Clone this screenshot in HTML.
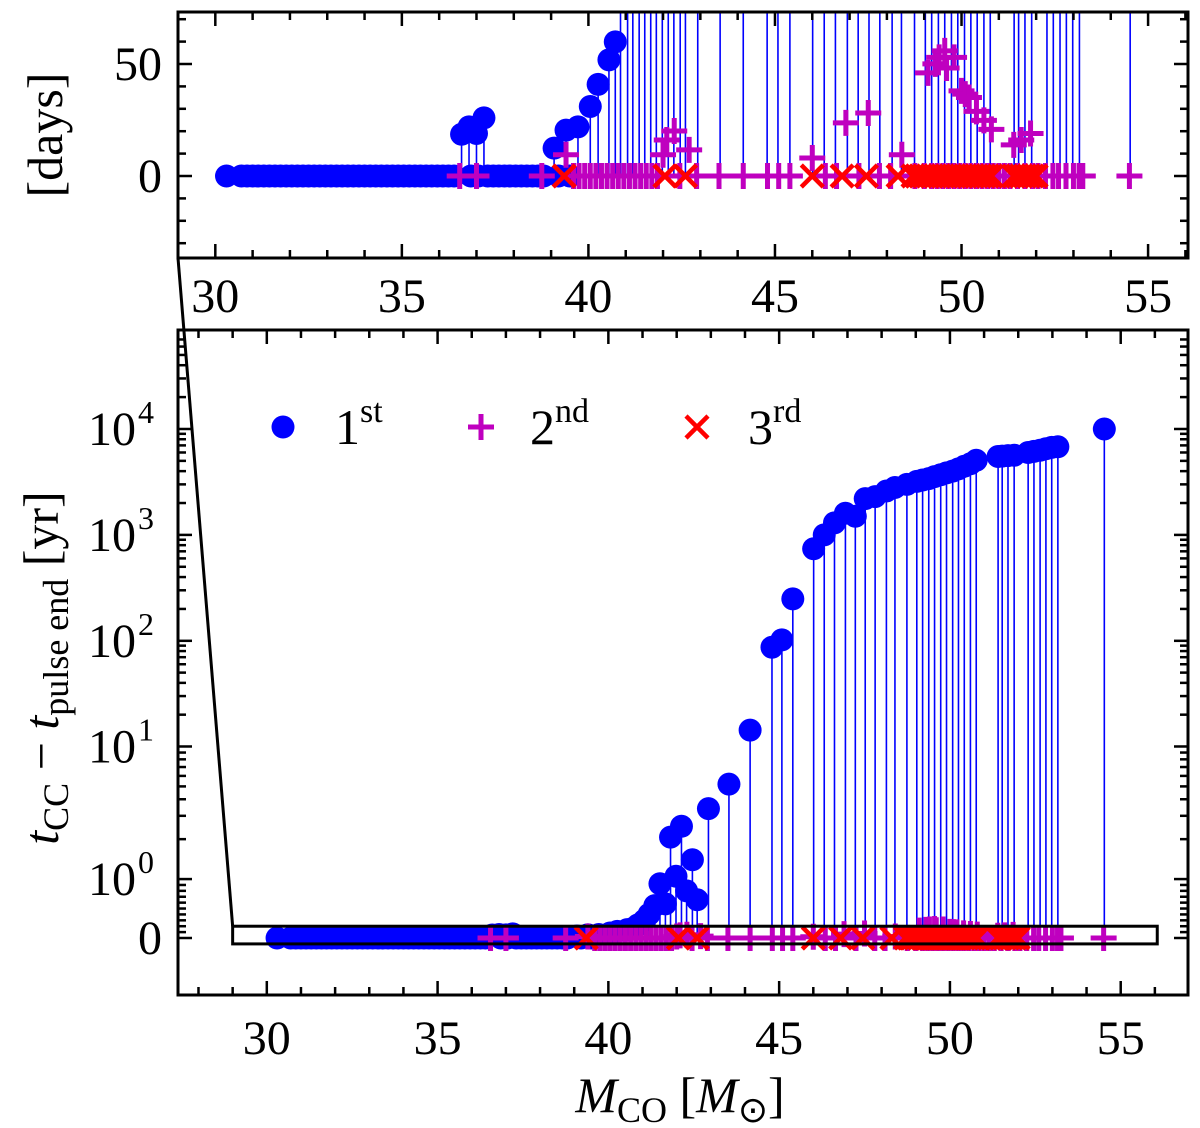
<!DOCTYPE html>
<html><head><meta charset="utf-8"><style>
html,body{margin:0;padding:0;background:#fff;}
svg{display:block;font-family:"Liberation Serif",serif;}
</style></head><body>
<svg id="chart" width="1200" height="1128" viewBox="0 0 1200 1128" xmlns="http://www.w3.org/2000/svg">
<defs>
<clipPath id="clipTop"><rect x="178" y="12" width="1010" height="246"/></clipPath>
<clipPath id="clipBot"><rect x="178" y="330" width="1010" height="665"/></clipPath>
</defs>
<g id="topPanel"></g>
<g id="botPanel"></g>
</svg>
<script>
// ---- data (M_CO in Msun, time in yr) ----
const blueM=[30.3,30.7,30.85,31.0,31.15,31.3,31.45,31.6,31.75,31.9,32.05,32.2,32.35,32.5,32.65,32.8,32.95,33.1,33.25,33.4,33.55,33.7,33.85,34.0,34.15,34.3,34.45,34.6,34.75,34.9,35.05,35.2,35.35,35.5,35.65,35.8,35.95,36.1,36.25,36.4,36.85,37.05,37.3,37.45,37.6,37.75,37.9,38.05,38.2,38.35,38.5,38.65,38.8,39.2,39.5,
36.6,36.8,37.0,37.2,39.08,39.4,39.72,40.05,40.26,40.55,40.72,
40.86,41.05,41.19,41.36,41.51,41.67,41.82,41.98,42.14,42.29,42.46,42.6,42.93,43.53,44.15,44.79,45.08,45.4,46.01,46.32,46.62,46.94,47.23,47.52,47.81,48.14,48.39,48.74,49.03,49.2,49.38,49.55,49.73,49.9,50.08,50.25,50.42,50.6,50.77,51.41,51.53,51.7,51.88,52.29,52.46,52.64,52.81,52.98,53.16,54.52];
const blueYr=[0,0,0,0,0,0,0,0,0,0,0,0,0,0,0,0,0,0,0,0,0,0,0,0,0,0,0,0,0,0,0,0,0,0,0,0,0,0,0,0,0,0,0,0,0,0,0,0,0,0,0,0,0,0,0,
0.051,0.060,0.052,0.071,0.034,0.056,0.060,0.085,0.112,0.142,0.164,
0.22,0.3,0.4,0.55,0.92,0.58,2.07,1.05,2.5,0.8,1.4,0.65,3.4,5.2,14.3,87,102,249,740,1000,1300,1600,1500,2200,2300,2600,2800,3000,3200,3300,3400,3550,3700,3850,4000,4200,4450,4700,5070,5500,5550,5600,5650,6000,6150,6300,6500,6700,6800,10000];
const magM=[39.4,42.0,42.1,42.3,42.7,46.0,46.9,47.5,48.4,49.1,49.3,49.4,49.55,49.6,49.8,50.0,50.1,50.2,50.4,50.6,50.8,51.4,51.6,51.85,
36.55,37.0,38.75,39.6,39.75,39.9,40.05,40.2,40.35,40.5,40.65,40.8,40.95,41.1,41.25,41.4,41.55,41.7,41.85,42.45,42.9,43.5,44.15,44.8,45.1,45.4,46.35,46.65,47.25,47.8,48.1,48.75,49.0,49.2,49.35,49.5,49.65,49.8,49.95,50.1,50.25,50.4,50.55,50.7,50.85,51.0,51.15,51.3,51.5,51.7,51.9,52.05,52.25,52.45,52.6,52.8,53.0,53.15,53.25,54.5];
const magYr=[0.026,0.026,0.044,0.055,0.032,0.022,0.065,0.077,0.026,0.126,0.137,0.145,0.153,0.132,0.145,0.104,0.1,0.096,0.079,0.068,0.057,0.038,0.044,0.052,
0,0,0,0,0,0,0,0,0,0,0,0,0,0,0,0,0,0,0,0,0,0,0,0,0,0,0,0,0,0,0,0,0,0,0,0,0,0,0,0,0,0,0,0,0,0,0,0,0,0,0,0,0,0,0,0,0,0,0,0];
const redM=[39.35,42.05,42.6,46.0,46.8,47.45,48.3,48.7,48.8,48.9,49.0,49.1,49.2,49.3,49.4,49.5,49.6,49.7,49.8,49.9,50.0,50.1,50.2,50.3,50.4,50.5,50.6,50.7,50.8,51.4,51.5,51.6,51.7,51.8,51.9,52.0];
const redYr=[0,0,0,0,0,0,0,0,0,0,0,0,0,0,0,0,0,0,0,0,0,0,0,0,0,0,0,0,0,0,0,0,0,0,0,0];
const xTicks=[30,35,40,45,50,55];
const topYTicks=[0,50];
const botYTickVals=[0,1,10,100,1000,10000];
const botYTickExp=['','0','1','2','3','4'];
const DAYS=365.25;

const NS='http://www.w3.org/2000/svg';
function mk(tag,attrs,parent){const e=document.createElementNS(NS,tag);for(const k in attrs)e.setAttribute(k,attrs[k]);parent.appendChild(e);return e;}

const topL=178,topR=1188,topT=12,topB=258;
const botL=178,botR=1188,botT=330,botB=995;
const xTop=m=>topL+(m-29)*(topR-topL)/(56.07-29);
const xBot=m=>botL+(m-27.4)*(botR-botL)/(56.97-27.4);
const yTop=d=>176-d*2.24;
function symT(v){ if(v<=1) return 0.116*v;
  const l=Math.log10(v);
  if(v<=10) return 0.116+0.261*l;
  if(v<=100) return 0.377+0.208*(l-1);
  return 0.585+0.2085*(l-2);}
const yBot=v=>938-symT(v)*508;

const gTop=document.getElementById('topPanel'), gBot=document.getElementById('botPanel');

function circle(g,x,y,name){const c=mk('circle',{cx:x,cy:y,r:11.5,fill:'#0000ff'},g);

}
function plus(g,x,y,name){const p=mk('path',{d:`M${x-13},${y}H${x+13}M${x},${y-13}V${y+13}`,stroke:'#bf00bf','stroke-width':5,fill:'none'},g);

}
function cross(g,x,y,name){const p=mk('path',{d:`M${x-11},${y-11}L${x+11},${y+11}M${x-11},${y+11}L${x+11},${y-11}`,stroke:'#ff0000','stroke-width':4.5,fill:'none'},g);

}

function drawSeries(g,xf,yf,clip){
  const s=mk('g',{'clip-path':`url(#${clip})`},g);
  
  
  for(let i=0;i<blueM.length;i++){
    const l=mk('line',{x1:xf(blueM[i]),x2:xf(blueM[i]),y1:yf(0),y2:yf(blueYr[i]),stroke:'#0000ff','stroke-width':1.6},s);
    
    
  }
  for(let i=0;i<blueM.length;i++) circle(s,xf(blueM[i]),yf(blueYr[i]),'point-1st');
  for(let i=0;i<magM.length;i++) plus(s,xf(magM[i]),yf(magYr[i]),'point-2nd');
  for(let i=0;i<redM.length;i++) cross(s,xf(redM[i]),yf(redYr[i]),'point-3rd');
}

drawSeries(gTop,xTop,v=>yTop(v*DAYS),'clipTop');
(function(){
  const g=gTop;
  for(let m=29;m<=56;m++){const x=xTop(m);const L=(m%5===0)?14:8;
    mk('line',{x1:x,x2:x,y1:topB,y2:topB-L,stroke:'#000','stroke-width':2.5},g);
    mk('line',{x1:x,x2:x,y1:topT,y2:topT+L,stroke:'#000','stroke-width':2.5},g);}
  for(let d=-30;d<=70;d+=10){const y=yTop(d);const L=(d%50===0)?14:8;
    mk('line',{x1:topL,x2:topL+L,y1:y,y2:y,stroke:'#000','stroke-width':2.5},g);
    mk('line',{x1:topR,x2:topR-L,y1:y,y2:y,stroke:'#000','stroke-width':2.5},g);}
  const f=mk('rect',{x:topL,y:topT,width:topR-topL,height:topB-topT,fill:'none',stroke:'#000','stroke-width':3},g);
  
  
  xTicks.forEach(v=>{const t=mk('text',{x:xTop(v),y:312,'text-anchor':'middle','font-size':48},g);t.textContent=v;
    
    });
  topYTicks.forEach(v=>{const t=mk('text',{x:162,y:yTop(v)+16,'text-anchor':'end','font-size':48},g);t.textContent=v;
    
    });
  const yl=mk('text',{x:0,y:0,transform:'translate(62,135) rotate(-90)','text-anchor':'middle','font-size':50},g);
  yl.textContent='[days]';
  
  
})();

drawSeries(gBot,xBot,yBot,'clipBot');
(function(){
  const g=gBot;
  for(let m=28;m<=56;m++){const x=xBot(m);const L=(m%5===0)?14:8;
    mk('line',{x1:x,x2:x,y1:botB,y2:botB-L,stroke:'#000','stroke-width':2.5},g);
    mk('line',{x1:x,x2:x,y1:botT,y2:botT+L,stroke:'#000','stroke-width':2.5},g);}
  const minors=[];
  for(let k=1;k<10;k++) minors.push(k/10);
  [1,10,100,1000,10000].forEach(b=>{for(let k=2;k<10;k++){const v=b*k; if(symT(v)<1.19) minors.push(v);}});
  minors.forEach(v=>{const y=yBot(v);
    mk('line',{x1:botL,x2:botL+8,y1:y,y2:y,stroke:'#000','stroke-width':2.5},g);
    mk('line',{x1:botR,x2:botR-8,y1:y,y2:y,stroke:'#000','stroke-width':2.5},g);});
  botYTickVals.forEach((v,i)=>{const y=yBot(v);
    mk('line',{x1:botL,x2:botL+14,y1:y,y2:y,stroke:'#000','stroke-width':2.5},g);
    mk('line',{x1:botR,x2:botR-14,y1:y,y2:y,stroke:'#000','stroke-width':2.5},g);
    const t=mk('text',{x:i===0?162:136,y:y+16,'text-anchor':'end','font-size':48},g);
    t.textContent=i===0?'0':'10';
    
    
    if(i>0){const s=mk('text',{x:138,y:y-6,'font-size':32},g);s.textContent=botYTickExp[i];
      
      }
  });
  const f=mk('rect',{x:botL,y:botT,width:botR-botL,height:botB-botT,fill:'none',stroke:'#000','stroke-width':3},g);
  
  
  xTicks.forEach(v=>{const t=mk('text',{x:xBot(v),y:1054,'text-anchor':'middle','font-size':48},g);t.textContent=v;
    
    });
  const r=mk('rect',{x:xBot(29),y:yBot(73/DAYS),width:xBot(56.07)-xBot(29),height:yBot(-36.6/DAYS)-yBot(73/DAYS),fill:'none',stroke:'#000','stroke-width':3},g);
  
  
  const cl=mk('line',{x1:topL,y1:topB,x2:xBot(29),y2:yBot(73/DAYS),stroke:'#000','stroke-width':3},g);
  
  
  const lg=mk('g',{},g);
  
  
  circle(lg,283,427,'legend-marker-1st');
  plus(lg,481,427,'legend-marker-2nd');
  cross(lg,697,427,'legend-marker-3rd');
  [[335,'1','st'],[530,'2','nd'],[748,'3','rd']].forEach(a=>{
    const t=mk('text',{x:a[0],y:444,'font-size':50},lg);
    
    
    const t1=mk('tspan',{},t);t1.textContent=a[1];
    const t2=mk('tspan',{dy:-22,'font-size':34},t);t2.textContent=a[2];
  });
  const xl=mk('text',{x:680,y:1112,'text-anchor':'middle','font-size':50},g);
  
  
  xl.innerHTML='<tspan font-style="italic">M</tspan><tspan font-size="36" dy="10">CO</tspan><tspan dy="-10"> [</tspan><tspan font-style="italic">M</tspan><tspan font-size="36" dy="10">⊙</tspan><tspan dy="-10">]</tspan>';
  const yl=mk('text',{x:0,y:0,transform:'translate(58,668) rotate(-90)','text-anchor':'middle','font-size':50},g);
  
  
  yl.innerHTML='<tspan font-style="italic">t</tspan><tspan font-size="36" dy="10">CC</tspan><tspan dy="-10"> − </tspan><tspan font-style="italic">t</tspan><tspan font-size="36" dy="10">pulse end</tspan><tspan dy="-10"> [yr]</tspan>';
})();
</script>
</body></html>
